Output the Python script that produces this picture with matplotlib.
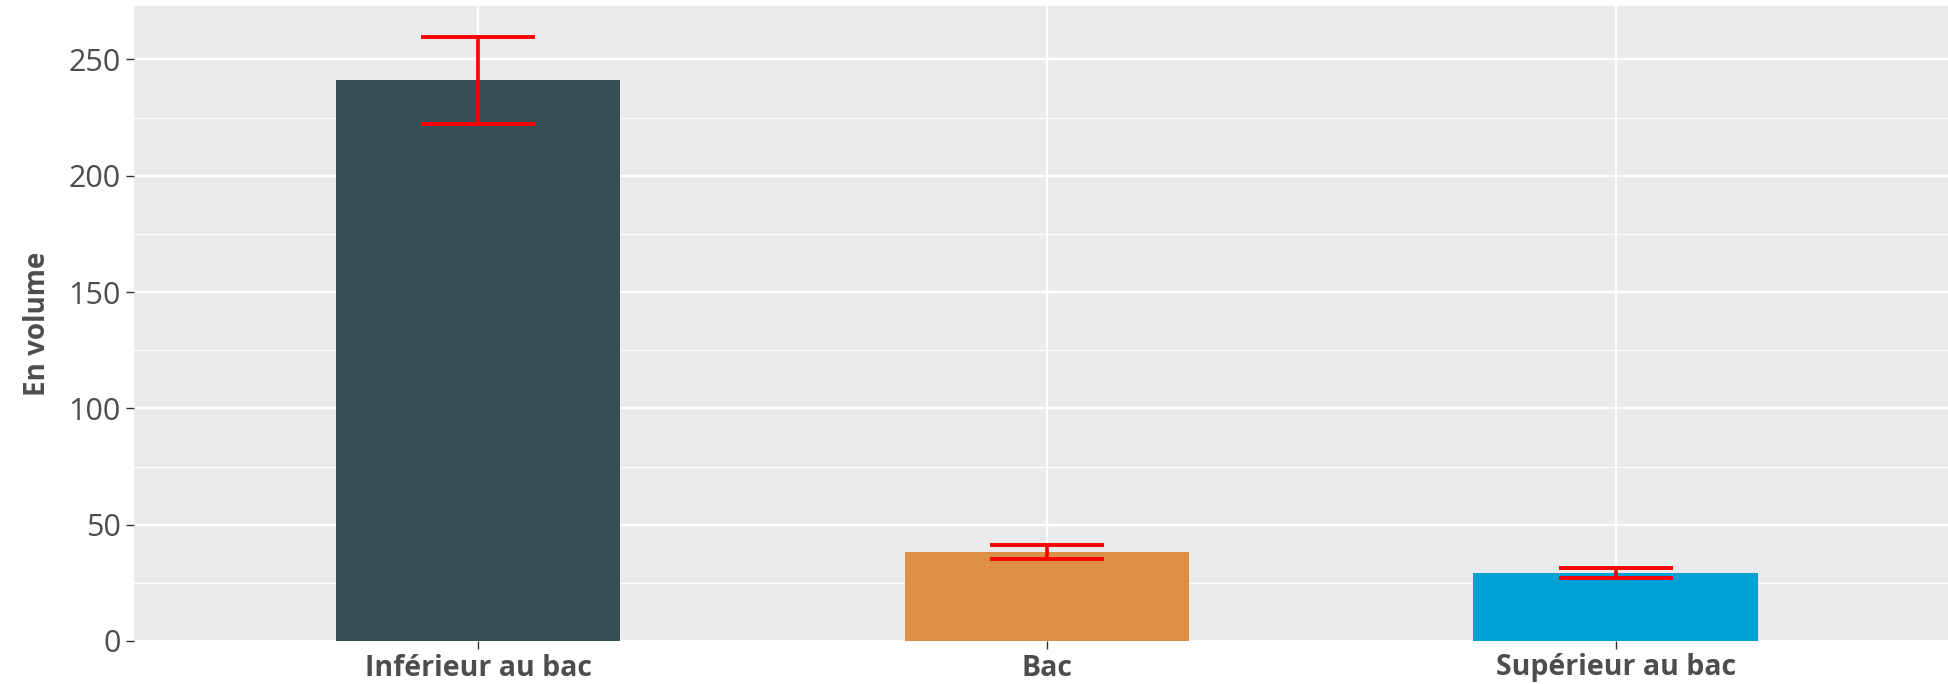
import matplotlib.pyplot as plt
from matplotlib.ticker import MultipleLocator

categories = ["Inférieur au bac", "Bac", "Supérieur au bac"]
values = [241.0, 38.3, 29.4]
errors = [18.8, 3.05, 2.15]
colors = ["#374E55", "#DF8F44", "#00A1D5"]

plt.rcParams['font.family'] = ['Open Sans', 'DejaVu Sans']

fig = plt.figure(figsize=(19.49, 6.84), dpi=100)
ax = fig.add_axes([134 / 1949, 1 - 641 / 684, 1 - 134 / 1949, (641 - 6) / 684])

x = [1, 2, 3]
ax.set_facecolor("#EBEBEB")
ax.bar(x, values, width=0.5, color=colors, zorder=2)
ax.errorbar(x, values, yerr=errors, fmt="none", ecolor="red",
            elinewidth=2.6, capsize=41, capthick=2.8, zorder=3)

ax.set_xlim(0.395, 3.586)
ax.set_ylim(0, 273)
ax.set_xticks(x)
ax.set_xticklabels(categories, fontsize=20.5, fontweight="bold", color="#4D4D4D")
ax.yaxis.set_major_locator(MultipleLocator(50))
ax.yaxis.set_minor_locator(MultipleLocator(25))
ax.tick_params(axis="y", labelsize=22, labelcolor="#4D4D4D", color="#333333",
               length=6, width=1)
ax.tick_params(axis="y", which="minor", length=0)
ax.tick_params(axis="x", color="#333333", length=6, width=1, pad=3)

ax.grid(True, which="major", color="white", linewidth=1.6, zorder=0)
ax.grid(True, which="minor", axis="y", color="white", linewidth=0.8, zorder=0)
ax.set_axisbelow(True)
for s in ax.spines.values():
    s.set_visible(False)

ax.set_ylabel("En volume", fontsize=20, fontweight="bold", color="#4D4D4D", labelpad=12)

fig.savefig("out.png", dpi=100)
